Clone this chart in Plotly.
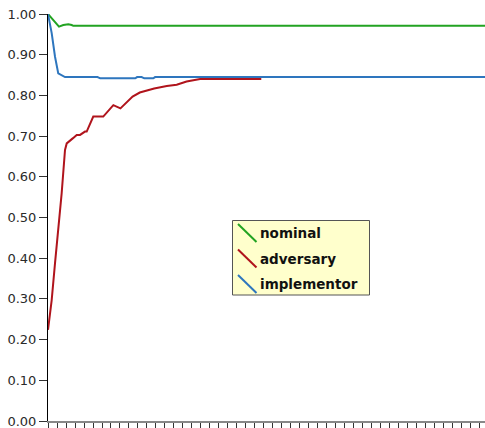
import plotly.graph_objects as go

# ---- data (x in tick units) ----
nominal_x = [0, 0.78, 1.22, 1.7, 2.26, 2.63, 2.81, 48.6]
nominal_y = [1.0, 0.981, 0.969, 0.973, 0.975, 0.973, 0.971, 0.971]

adversary_x = [0, 0.41, 0.78, 1.14, 1.52, 1.89, 2.08, 2.78, 3.19, 3.56, 4.11, 4.3,
               5.03, 6.14, 7.26, 8.05, 9.4, 10.2, 11.8, 13.2, 14.3, 15.4, 16.3, 16.9, 23.7]
adversary_y = [0.224, 0.297, 0.388, 0.469, 0.56, 0.666, 0.682, 0.695, 0.703, 0.703, 0.711, 0.711,
               0.748, 0.748, 0.776, 0.768, 0.797, 0.807, 0.817, 0.823, 0.826, 0.834, 0.838, 0.840, 0.840]

implementor_x = [0, 0.41, 0.78, 1.14, 1.89, 5.5, 5.8, 9.7, 9.9, 10.4, 10.7, 11.7, 11.9, 48.6]
implementor_y = [1.0, 0.953, 0.895, 0.854, 0.845, 0.845, 0.842, 0.842, 0.845, 0.845, 0.842, 0.842, 0.845, 0.845]

series_names = ["nominal", "adversary", "implementor"]
series_colors = ["#22a322", "#b0141c", "#2e76be"]

y_ticks = [0.0, 0.1, 0.2, 0.3, 0.4, 0.5, 0.6, 0.7, 0.8, 0.9, 1.0]
y_tick_labels = ["0.00", "0.10", "0.20", "0.30", "0.40", "0.50", "0.60", "0.70", "0.80", "0.90", "1.00"]

# ---- layout geometry ----
W, H = 485, 428
ML, MR, MT, MB = 48, 0, 14, 7
PW, PH = W - ML - MR, H - MT - MB
X_MAX = 48.56


def px2x(px):
    return (px - ML) / PW


def py2y(py):
    return (H - MB - py) / PH


fig = go.Figure()
for xs, ys, name, col in [(nominal_x, nominal_y, series_names[0], series_colors[0]),
                          (adversary_x, adversary_y, series_names[1], series_colors[1]),
                          (implementor_x, implementor_y, series_names[2], series_colors[2])]:
    fig.add_trace(go.Scatter(x=xs, y=ys, mode="lines", name=name,
                             line=dict(color=col, width=2), showlegend=False))

# custom legend (box, slanted line symbols, bold labels)
shapes = [dict(type="rect", xref="paper", yref="paper",
               x0=px2x(232.5), x1=px2x(369.5), y0=py2y(295), y1=py2y(220.5),
               fillcolor="#ffffcc", line=dict(color="#555555", width=1), layer="above")]
annotations = []
row_y = [233, 258.5, 284]
for i, (name, col) in enumerate(zip(series_names, series_colors)):
    cy = row_y[i]
    shapes.append(dict(type="line", xref="paper", yref="paper",
                       x0=px2x(238), y0=py2y(cy - 9), x1=px2x(256.5), y1=py2y(cy + 9),
                       line=dict(color=col, width=2), layer="above"))
    annotations.append(dict(xref="paper", yref="paper", x=px2x(258), y=py2y(cy),
                            xanchor="left", yanchor="middle", showarrow=False, text=f"<b>{name}</b>",
                            font=dict(family="DejaVu Sans", size=13.5, color="#111111")))

fig.update_layout(
    width=W, height=H,
    margin=dict(l=ML, r=MR, t=MT, b=MB, pad=0),
    paper_bgcolor="white", plot_bgcolor="white",
    showlegend=False,
    shapes=shapes, annotations=annotations,
    font=dict(family="DejaVu Sans", size=13, color="#333333"),
    xaxis=dict(range=[0, X_MAX], tickmode="linear", tick0=0, dtick=1,
               ticks="outside", ticklen=6, tickcolor="#333333", tickwidth=1,
               showticklabels=False, showgrid=False, zeroline=False,
               showline=True, linecolor="#888888", linewidth=2),
    yaxis=dict(range=[0, 1.0], tickmode="array", tickvals=y_ticks, ticktext=y_tick_labels,
               ticks="outside", ticklen=8, tickcolor="#333333", tickwidth=1,
               showgrid=False, zeroline=False, ticklabeloverflow="allow",
               showline=True, linecolor="#000000", linewidth=1,
               tickfont=dict(family="DejaVu Sans", size=13, color="#2a2a2a")),
)

fig.write_html("out.html", config={"displayModeBar": False},
               post_script="document.body.style.margin='0';document.body.style.overflow='hidden';")
